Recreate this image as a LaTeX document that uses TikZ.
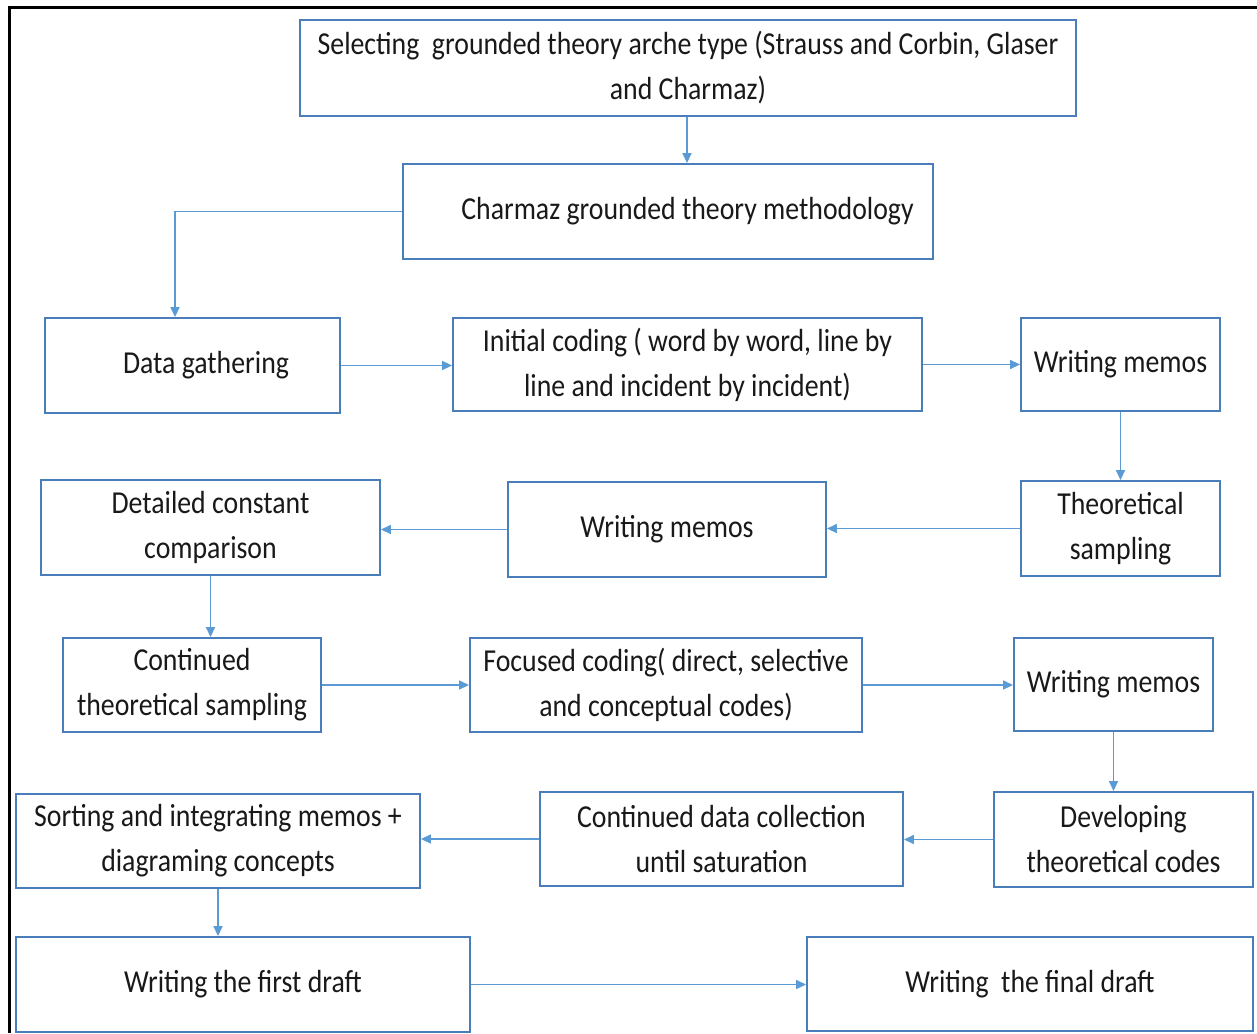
\documentclass[tikz,border=0pt]{standalone}
\usepackage{fontspec}
\setmainfont{Carlito}
\usetikzlibrary{arrows.meta}
\definecolor{boxblue}{HTML}{4A7EBB}
\definecolor{arrblue}{HTML}{5B9BD5}
\newcommand\vt[1]{\scalebox{1}[1.15]{#1}}
\tikzset{
  box/.style={draw=boxblue, line width=1.9pt, rectangle, inner sep=0pt,
    align=center, font=\fontsize{27.8}{45}\selectfont, text=black!90},
  conn/.style={draw=arrblue, line width=1.6pt, -{Triangle[length=10pt,width=9pt]}},
  frame/.style={draw=black, line width=3pt}
}
\begin{document}
\begin{tikzpicture}[x=1pt,y=-1pt]
\useasboundingbox (0,0) rectangle (1257,1033);
\fill[white] (0,0) rectangle (1257,1033);
\coordinate (fa) at (9,1033);
\coordinate (fb) at (9,7.5);
\coordinate (fc) at (1257,7.5);
\draw[frame] (fa) -- (fb) -- (fc);

\node[box, minimum width=776pt, minimum height=96pt] (top) at (688,68)
  {\vt{Selecting\ \ grounded theory arche type (Strauss and Corbin, Glaser}\\\vt{and Charmaz)}};
\node[box, minimum width=530pt, minimum height=95pt] (charmaz) at (668,211.5)
  {\hspace*{39pt}\vt{Charmaz grounded theory methodology}};
\node[box, minimum width=295pt, minimum height=95pt] (data) at (192.5,365.5)
  {\hspace*{27pt}\vt{Data gathering}};
\node[box, minimum width=469pt, minimum height=93pt] (initial) at (687.5,364.5)
  {\vt{Initial coding ( word by word, line by}\\\vt{line and incident by incident)}};
\node[box, minimum width=199pt, minimum height=93pt] (wm1) at (1120.5,364.5)
  {\vt{Writing memos}};
\node[box, minimum width=199pt, minimum height=95pt] (theo) at (1120.5,528.5)
  {\vt{Theoretical}\\\vt{sampling}};
\node[box, minimum width=318pt, minimum height=95pt] (wm2) at (667,529.5)
  {\vt{Writing memos}};
\node[box, minimum width=339pt, minimum height=95pt] (detailed) at (210.5,527.5)
  {\vt{Detailed constant}\\\vt{comparison}};
\node[box, minimum width=258pt, minimum height=94pt] (contth) at (192,685)
  {\vt{Continued}\\\vt{theoretical sampling}};
\node[box, minimum width=392pt, minimum height=94pt] (focused) at (666,685)
  {\vt{Focused coding( direct, selective}\\\vt{and conceptual codes)}};
\node[box, minimum width=199pt, minimum height=93pt] (wm3) at (1113.5,684.5)
  {\vt{Writing memos}};
\node[box, minimum width=259pt, minimum height=95pt] (develop) at (1123.5,839.5)
  {\vt{Developing}\\\vt{theoretical codes}};
\node[box, minimum width=363pt, minimum height=94pt] (contdata) at (721.5,839)
  {\vt{Continued data collection}\\\vt{until saturation}};
\node[box, minimum width=404pt, minimum height=94pt] (sorting) at (218,841)
  {\vt{Sorting and integrating memos +}\\\vt{diagraming concepts}};
\node[box, minimum width=454pt, minimum height=95pt] (first) at (243,984.5)
  {\vt{Writing the first draft}};
\node[box, minimum width=446pt, minimum height=94pt] (final) at (1030,984)
  {\vt{Writing\ \ the final draft}};

\draw[conn] (top.south -| 687,0) -- (charmaz.north -| 687,0);
\draw[conn] (charmaz.west) -| (data.north -| 175,0);
\draw[conn] (data.east) -- (initial.west |- data.east);
\draw[conn] (initial.east) -- (wm1.west);
\draw[conn] (wm1.south) -- (theo.north);
\draw[conn] (theo.west) -- (wm2.east |- theo.west);
\draw[conn] (wm2.west) -- (detailed.east |- wm2.west);
\draw[conn] (detailed.south) -- (contth.north -| detailed.south);
\draw[conn] (contth.east) -- (focused.west);
\draw[conn] (focused.east) -- (wm3.west |- focused.east);
\draw[conn] (wm3.south) -- (develop.north -| wm3.south);
\draw[conn] (develop.west) -- (contdata.east |- develop.west);
\draw[conn] (contdata.west) -- (sorting.east |- contdata.west);
\draw[conn] (sorting.south) -- (first.north -| sorting.south);
\draw[conn] (first.east) -- (final.west |- first.east);
\end{tikzpicture}
\end{document}
